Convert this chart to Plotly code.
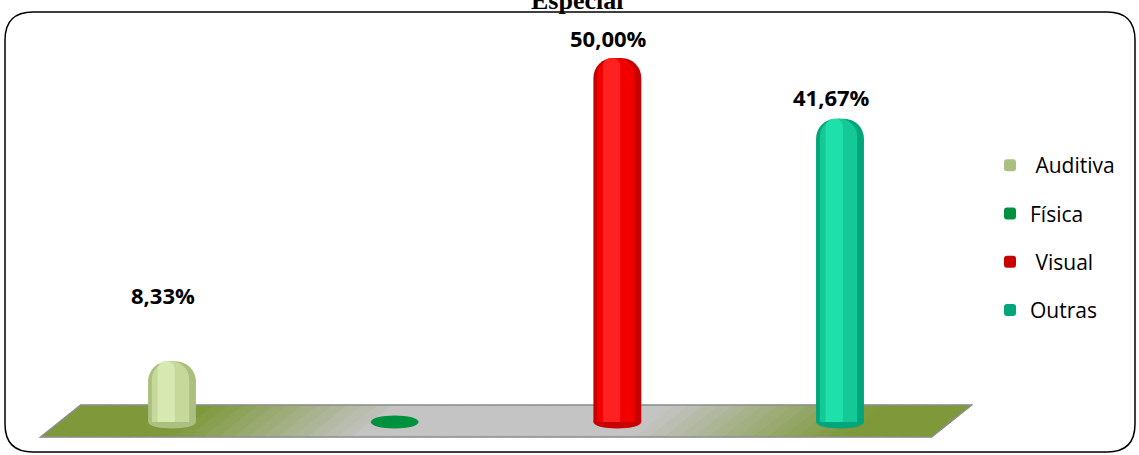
import plotly.graph_objects as go

# ---------------- data ----------------
categories = ["Auditiva", "Física", "Visual", "Outras"]
legend_names = ["\u00a0Auditiva", "Física", "\u00a0Visual", "Outras"]
values = [8.33, 0.0, 50.00, 41.67]
value_labels = ["8,33%", "0,00%", "50,00%", "41,67%"]
title_text = "Especial"

# ---------------- style ----------------
edge_colors = ["#abbf80", "#00913f", "#c80000", "#00a57a"]
body_colors = ["#c6d99a", "#00913f", "#f20000", "#14c996"]
light_colors = ["#d7e8b0", "#00913f", "#ff2020", "#1fe0aa"]
label_lift = [49, 3, 3, 5]

W, H = 1139, 455
L, R, T, B = 5, 4, 12, 3
bar_w = 0.215

xs = list(range(len(categories)))
fig = go.Figure()

for i, c in enumerate(categories):
    layers = [
        (edge_colors[i], -0.5, 1.0, True),
        (body_colors[i], -0.42, 0.78, False),
        (light_colors[i], -0.30, 0.36, False),
    ]
    for col, off, wf, show in layers:
        fig.add_trace(go.Bar(
            x=[xs[i]], y=[values[i]],
            width=bar_w * wf, offset=bar_w * off,
            marker=dict(color=col, line=dict(width=0)),
            name=legend_names[i], legendgroup=c, showlegend=show,
            hoverinfo="skip",
        ))

# ---------------- floor ----------------
n = len(categories)
floor_top, floor_bot = 2.33, -2.06
x_tl = -0.41
x_tr = (n - 1) + 0.59
skew = 0.18
olive = (126, 152, 58)
gray = (196, 196, 196)


def mix(a, b, t):
    return "rgb(%d,%d,%d)" % tuple(round(a[k] + (b[k] - a[k]) * t) for k in range(3))


def floor_color(t):
    if t < 0.14:
        return mix(olive, olive, 0)
    if t < 0.36:
        return mix(olive, gray, (t - 0.14) / 0.22)
    if t < 0.66:
        return mix(gray, gray, 0)
    if t < 0.9:
        return mix(gray, olive, (t - 0.66) / 0.24)
    return mix(olive, olive, 0)


shapes = []
N = 60
span = x_tr - x_tl
for j in range(N):
    a = x_tl + span * j / N
    b = x_tl + span * (j + 1) / N + 0.004
    col = floor_color((j + 0.5) / N)
    shapes.append(dict(
        type="path", xref="x", yref="y", layer="below",
        path=f"M {a},{floor_top} L {b},{floor_top} L {b - skew},{floor_bot} L {a - skew},{floor_bot} Z",
        fillcolor=col, line=dict(width=0.6, color=col),
    ))
shapes.append(dict(
    type="path", xref="x", yref="y", layer="below",
    path=f"M {x_tl},{floor_top} L {x_tr},{floor_top} L {x_tr - skew},{floor_bot} L {x_tl - skew},{floor_bot} Z",
    fillcolor="rgba(0,0,0,0)", line=dict(color="#8e8e8e", width=1.5),
))

# bar bases (ellipses)
for i in xs:
    shapes.append(dict(
        type="circle", xref="x", yref="y", layer="below",
        x0=i - bar_w / 2, x1=i + bar_w / 2, y0=-0.9, y1=0.9,
        fillcolor=edge_colors[i], line=dict(width=0),
    ))

# rounded border
rx, ry = 28 / (W - L - R), 28 / (H - T - B)
shapes.append(dict(
    type="path", xref="paper", yref="paper", layer="above",
    path=(f"M {rx},1 L {1 - rx},1 Q 1,1 1,{1 - ry} L 1,{ry} Q 1,0 {1 - rx},0 "
          f"L {rx},0 Q 0,0 0,{ry} L 0,{1 - ry} Q 0,1 {rx},1 Z"),
    fillcolor="rgba(0,0,0,0)", line=dict(color="black", width=1.5),
))

annotations = []
for i in xs:
    if values[i] > 0:
        annotations.append(dict(
            x=xs[i], y=values[i], xref="x", yref="y", text=f"<b>{value_labels[i]}</b>",
            showarrow=False, yanchor="bottom", xanchor="center", yshift=label_lift[i], xshift=-9,
            font=dict(family="Open Sans", size=22, color="black"),
        ))
annotations.append(dict(
    x=(577 - L) / (W - L - R), y=(H - B - 17) / (H - T - B), xref="paper", yref="paper",
    text=f"<b>{title_text}</b>", showarrow=False, xanchor="center", yanchor="bottom",
    font=dict(family="Liberation Serif", size=26, color="black"),
))

fig.update_layout(
    width=W, height=H,
    margin=dict(l=L, r=R, t=T, b=B),
    paper_bgcolor="white", plot_bgcolor="white",
    barmode="overlay", barcornerradius=20,
    xaxis=dict(range=[(5 - 172) / 222.67, (1135 - 172) / 222.67], visible=False, fixedrange=True),
    yaxis=dict(range=[-30 / 7.28, 410 / 7.28], visible=False, fixedrange=True),
    shapes=shapes, annotations=annotations,
    showlegend=True,
    legend=dict(
        x=(990 - L) / (W - L - R), y=(H - B - 145) / (H - T - B), xanchor="left", yanchor="top",
        font=dict(family="Open Sans", size=21, color="black"),
        bgcolor="rgba(0,0,0,0)", traceorder="grouped", tracegroupgap=18,
        itemclick=False,
    ),
)

fig.write_html("out.html", config={"displayModeBar": False},
               post_script="document.body.style.margin='0';")
